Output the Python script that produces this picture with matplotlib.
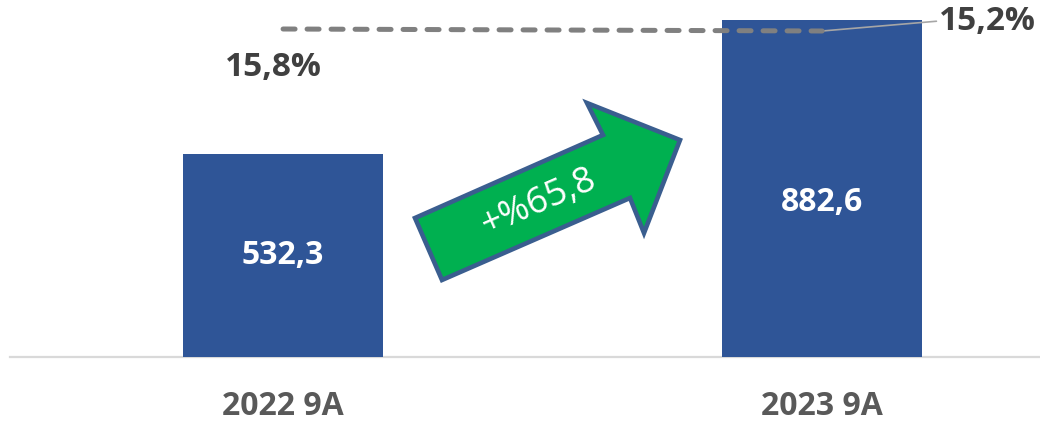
import matplotlib
matplotlib.use("Agg")
import matplotlib.pyplot as plt
from matplotlib.patches import Polygon

categories = ["2022 9A", "2023 9A"]
values = [532.3, 882.6]
value_labels = ["532,3", "882,6"]
ratios = [15.8, 15.2]
ratio_labels = ["15,8%", "15,2%"]
growth_label = "+%65,8"

FONT = ["Open Sans", "DejaVu Sans"]
W, H = 1040, 422
fig = plt.figure(figsize=(W / 100, H / 100), dpi=100)

ax = fig.add_axes([10 / W, (H - 357) / H, 1030 / W, 357 / H])
x = list(range(len(categories)))
ax.bar(x, values, width=0.371, color="#2F5597", zorder=3)
ax.set_xlim(-0.5065, 1.404)
ax.set_ylim(0, 935)
for s in ["top", "right", "left"]:
    ax.spines[s].set_visible(False)
ax.spines["bottom"].set_color("#D9D9D9")
ax.spines["bottom"].set_linewidth(1.6)
ax.spines["bottom"].set_zorder(1)
ax.set_yticks([])
ax.set_xticks(x)
ax.set_xticklabels(categories, fontfamily=FONT, fontsize=23, fontweight="bold", color="#595959")
ax.tick_params(axis="x", length=0, pad=24)

label_offsets = [0, -14]
for xi, v, lab, off in zip(x, values, value_labels, label_offsets):
    ax.annotate(lab, xy=(xi, v / 2), xytext=(0, off), textcoords="offset pixels",
                ha="center", va="center", color="white",
                fontsize=23, fontweight="bold", fontfamily=FONT, zorder=4)

ax2 = ax.twinx()
ax2.set_ylim(-82.6, 24.5)
ax2.axis("off")
ax2.plot(x, ratios, color="#808080", lw=3.6, linestyle=(0, (2.4, 2.4)),
         dash_capstyle="round", zorder=5)

ax2.annotate(ratio_labels[0], xy=(x[0], ratios[0]), xytext=(-58, -38),
             textcoords="offset pixels", ha="left", va="center",
             fontsize=24, fontweight="bold", fontfamily=FONT, color="#404040")
ax2.annotate(ratio_labels[1], xy=(x[1], ratios[1]), xytext=(117, 10),
             textcoords="offset pixels", ha="left", va="center",
             fontsize=24, fontweight="bold", fontfamily=FONT, color="#404040",
             arrowprops=dict(arrowstyle="-", color="#A6A6A6", lw=1.2,
                             shrinkA=0, shrinkB=0, relpos=(0, 0.5)))

# growth arrow (figure pixel coordinates)
pts = [(415, 218), (603, 135), (587, 103), (680, 140), (644, 233), (630, 198), (442, 280)]
poly = Polygon([(px / W, (H - py) / H) for px, py in pts], closed=True,
               transform=fig.transFigure, facecolor="#00B050",
               edgecolor="#3A5E8F", lw=3.3, joinstyle="miter", zorder=6)
fig.patches.append(poly)
fig.text(538 / W, (H - 203) / H, growth_label, rotation=23.6, rotation_mode="anchor",
         ha="center", va="center", color="white", fontsize=26, fontfamily=FONT, zorder=7)

fig.savefig("out.png", dpi=100)
